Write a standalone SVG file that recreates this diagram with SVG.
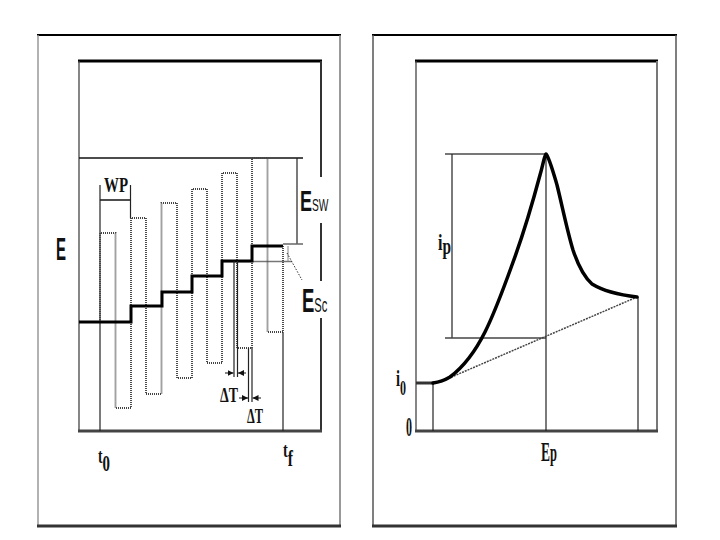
<svg xmlns="http://www.w3.org/2000/svg" width="720" height="540" viewBox="0 0 720 540">
<style>
.serif{font-family:"Liberation Serif","Times New Roman",serif;font-weight:bold;fill:#111}
.sans{font-family:"Liberation Sans",Arial,sans-serif;font-weight:bold;fill:#111}
.thin{stroke:#222;stroke-width:1.2;fill:none}
.pulse{stroke:#444;stroke-width:1.9;stroke-dasharray:1 1;fill:none}
.stair{stroke:#000;stroke-width:3;fill:none}
.curve{stroke:#000;stroke-width:3.5;fill:none;stroke-linejoin:round;stroke-linecap:round}
</style>
<defs>
<marker id="ah" markerUnits="userSpaceOnUse" markerWidth="6" markerHeight="6" refX="6" refY="3" orient="auto">
<path d="M0,0 L6,3 L0,6 z" fill="#111"/>
</marker>
</defs>
<rect width="720" height="540" fill="#fff"/>

<g id="left-panel">
  <g id="left-outer-frame">
    <line x1="37" y1="35" x2="341" y2="35" stroke="#000" stroke-width="2"/>
    <line x1="38" y1="35" x2="38" y2="526" stroke="#999" stroke-width="1.5"/>
    <line x1="340" y1="35" x2="340" y2="526" stroke="#777" stroke-width="1.5"/>
    <line x1="37" y1="526" x2="341" y2="526" stroke="#333" stroke-width="3"/>
  </g>
  <g id="left-inner-frame">
    <line x1="78" y1="61" x2="322" y2="61" stroke="#000" stroke-width="3"/>
    <line x1="79" y1="61" x2="79" y2="431" stroke="#444" stroke-width="1.3"/>
    <line x1="321" y1="61" x2="321" y2="431" stroke="#333" stroke-width="2"/>
    <line x1="78" y1="431" x2="322" y2="431" stroke="#444" stroke-width="3"/>
  </g>
  <g id="reference-lines">
    <line x1="79" y1="158" x2="303" y2="158" stroke="#111" stroke-width="1.5"/>
    <line x1="297" y1="158" x2="297" y2="244" class="thin"/>
    <line x1="283" y1="244" x2="303" y2="244" stroke="#666" stroke-width="1.5"/>
    <line x1="222" y1="261.5" x2="292" y2="261.5" stroke="#777" stroke-width="1.5"/>
    <line x1="288" y1="246" x2="288" y2="261" stroke="#888" stroke-width="1"/>
    <line x1="287" y1="253" x2="302" y2="280" stroke="#333" stroke-width="1" stroke-dasharray="1.5 1.5"/>
  </g>
  <g id="wp-bracket">
    <line x1="100" y1="185" x2="100" y2="431" class="thin"/>
    <line x1="130.5" y1="185" x2="130.5" y2="218" class="thin"/>
    <line x1="100" y1="200" x2="130.5" y2="200" stroke="#222" stroke-width="1.6"/>
    <text class="serif" x="104" y="192" font-size="20" textLength="24" lengthAdjust="spacingAndGlyphs">WP</text>
  </g>
  <g id="pulse-train">
    <path class="pulse" d="M100,322 V233 H115.5 V408 H131 V218 H146 V394 H161.5 V203 H177 V378 H192 V189 H207 V363 H222 V173 H237 V348 H252 V158 H267.5 V332 H283 V246"/>
  </g>
  <g id="staircase">
    <path class="stair" d="M79,322 H131 V306 H162 V292 H192 V276 H222 V261 H252 V246 H283"/>
  </g>
  <g id="tf-line">
    <line x1="283" y1="332" x2="283" y2="431" class="thin"/>
  </g>
  <g id="delta-t">
    <line x1="234" y1="261" x2="234" y2="377" class="thin"/>
    <line x1="237.5" y1="261" x2="237.5" y2="377" class="thin"/>
    <line x1="225" y1="373" x2="233.5" y2="373" stroke="#111" stroke-width="1" marker-end="url(#ah)"/>
    <line x1="246" y1="373" x2="238" y2="373" stroke="#111" stroke-width="1" marker-end="url(#ah)"/>
    <text class="serif" x="220" y="402" font-size="22" textLength="18" lengthAdjust="spacingAndGlyphs">ΔT</text>
    <line x1="248.5" y1="348" x2="248.5" y2="402" class="thin"/>
    <line x1="252" y1="348" x2="252" y2="402" class="thin"/>
    <line x1="239" y1="398" x2="248" y2="398" stroke="#111" stroke-width="1" marker-end="url(#ah)"/>
    <line x1="261" y1="398" x2="252.5" y2="398" stroke="#111" stroke-width="1" marker-end="url(#ah)"/>
    <text class="serif" x="247" y="423" font-size="22" textLength="16" lengthAdjust="spacingAndGlyphs">ΔT</text>
  </g>
  <g id="left-labels">
    <text class="sans" x="56" y="260" font-size="31" textLength="10" lengthAdjust="spacingAndGlyphs">E</text>
    <rect x="298" y="177" width="35" height="46" fill="#fff"/>
    <text class="sans" transform="translate(300,211) scale(0.6,1)" font-size="30">E<tspan font-size="17" font-weight="normal">SW</tspan></text>
    <rect x="300" y="281" width="30" height="37" fill="#fff"/>
    <text class="sans" transform="translate(302,312) scale(0.56,1)" font-size="33">E<tspan font-size="20" font-weight="normal">Sc</tspan></text>
    <text class="serif" transform="translate(98,463) scale(0.62,1)" font-size="22">t<tspan font-size="24" dy="8">0</tspan></text>
    <text class="serif" transform="translate(283,457) scale(0.65,1)" font-size="22">t<tspan font-size="24" dy="9">f</tspan></text>
  </g>
</g>

<g id="right-panel">
  <g id="right-outer-frame">
    <line x1="372" y1="35" x2="677" y2="35" stroke="#000" stroke-width="2"/>
    <line x1="373" y1="35" x2="373" y2="526" stroke="#555" stroke-width="1.5"/>
    <line x1="676" y1="35" x2="676" y2="526" stroke="#555" stroke-width="1.5"/>
    <line x1="372" y1="526" x2="677" y2="526" stroke="#333" stroke-width="3"/>
  </g>
  <g id="right-inner-frame">
    <line x1="415" y1="61" x2="658" y2="61" stroke="#000" stroke-width="3"/>
    <line x1="416" y1="61" x2="416" y2="431" stroke="#444" stroke-width="1.3"/>
    <line x1="657" y1="61" x2="657" y2="431" stroke="#777" stroke-width="2"/>
    <line x1="415" y1="431" x2="658" y2="431" stroke="#444" stroke-width="3"/>
  </g>
  <g id="peak-guides">
    <line x1="445" y1="154" x2="546" y2="154" stroke="#777" stroke-width="2"/>
    <line x1="452" y1="154" x2="452" y2="338" class="thin"/>
    <line x1="445" y1="338" x2="546" y2="338" stroke="#444" stroke-width="1.5"/>
    <line x1="546" y1="154" x2="546" y2="431" class="thin"/>
    <line x1="433" y1="383" x2="433" y2="431" class="thin"/>
    <line x1="638" y1="297" x2="638" y2="431" class="thin"/>
    <line x1="440" y1="382" x2="637" y2="297" stroke="#444" stroke-width="1.5" stroke-dasharray="2 1"/>
  </g>
  <g id="current-curve">
    <line x1="416" y1="383" x2="434" y2="383" stroke="#333" stroke-width="3"/>
    <path class="curve" d="M433,383 C440,382 445,380 450,377 C462,368 475,352 485,332 C495,312 503,290 512,265 C522,238 532,205 540,175 C543,165 544,157 546,154 C549,157 552,168 557,185 C562,205 567,230 573,250 C578,265 583,276 592,284 C605,292 620,295 637,297"/>
  </g>
  <g id="right-labels">
    <text class="serif" transform="translate(438,250) scale(0.67,1)" font-size="24">i<tspan font-size="23" dy="4">p</tspan></text>
    <text class="serif" transform="translate(396,386) scale(0.6,1)" font-size="24">i<tspan font-size="20" dy="9">0</tspan></text>
    <text class="serif" x="406" y="436" font-size="27" textLength="6" lengthAdjust="spacingAndGlyphs">0</text>
    <text class="serif" transform="translate(541,461) scale(0.5,1)" font-size="27">E<tspan font-size="25">p</tspan></text>
  </g>
</g>
</svg>
